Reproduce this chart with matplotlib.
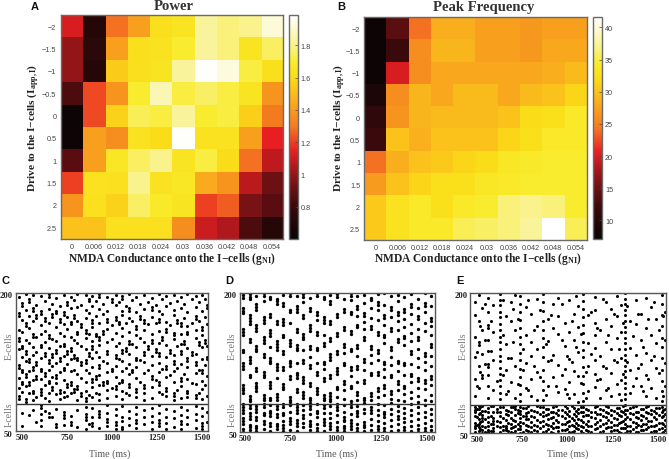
import matplotlib
matplotlib.use("Agg")
import matplotlib.pyplot as plt
from matplotlib.colors import LinearSegmentedColormap

W, H = 669, 460
plt.rcParams['mathtext.fontset'] = 'custom'
plt.rcParams['mathtext.rm'] = 'Liberation Serif:bold'
plt.rcParams['mathtext.default'] = 'rm'

g_labels = ['0', '0.006', '0.012', '0.018', '0.024', '0.03', '0.036', '0.042', '0.048', '0.054']
drive_labels = ['\u22122', '\u22121.5', '\u22121', '\u22120.5', '0', '0.5', '1', '1.5', '2', '2.5']

power = [
    [1.12, 0.72, 1.28, 1.42, 1.62, 1.65, 1.82, 1.78, 1.80, 1.92],
    [1.00, 0.75, 1.42, 1.62, 1.64, 1.70, 1.82, 1.78, 1.65, 1.75],
    [1.00, 0.72, 1.55, 1.62, 1.65, 1.82, 1.98, 1.93, 1.72, 1.62],
    [0.85, 1.22, 1.38, 1.70, 1.86, 1.72, 1.76, 1.72, 1.65, 1.38],
    [0.62, 1.22, 1.57, 1.74, 1.72, 1.82, 1.70, 1.72, 1.56, 1.30],
    [0.63, 1.42, 1.36, 1.64, 1.60, 1.98, 1.64, 1.64, 1.42, 1.15],
    [0.88, 1.42, 1.66, 1.75, 1.80, 1.65, 1.72, 1.60, 1.28, 1.08],
    [1.20, 1.64, 1.63, 1.80, 1.64, 1.66, 1.45, 1.38, 1.07, 0.92],
    [1.38, 1.63, 1.57, 1.76, 1.68, 1.65, 1.20, 1.25, 0.95, 0.88],
    [1.52, 1.52, 1.63, 1.63, 1.63, 1.36, 1.10, 1.05, 0.85, 0.72],
]
peak = [
    [7.5, 14.0, 24.0, 28.5, 28.5, 27.5, 27.5, 26.8, 27.5, 27.5],
    [7.5, 12.0, 26.0, 29.0, 29.0, 27.5, 27.5, 26.8, 28.0, 28.0],
    [7.5, 20.0, 26.0, 28.0, 28.0, 28.0, 28.0, 28.0, 28.5, 29.5],
    [9.0, 26.0, 29.0, 28.0, 29.5, 29.5, 28.0, 29.5, 30.0, 31.5],
    [11.0, 26.5, 29.0, 29.5, 29.5, 29.5, 30.0, 32.0, 32.5, 34.0],
    [12.0, 30.0, 28.7, 30.0, 30.0, 30.0, 31.5, 32.5, 34.0, 34.0],
    [24.0, 28.5, 30.0, 30.5, 31.5, 32.0, 33.5, 34.0, 34.5, 34.5],
    [27.0, 30.0, 31.5, 32.5, 32.5, 33.5, 34.0, 34.5, 34.5, 34.5],
    [30.5, 33.0, 34.0, 32.5, 34.0, 34.5, 36.5, 37.0, 36.5, 34.5],
    [30.5, 33.0, 34.0, 34.0, 35.5, 36.0, 36.5, 37.5, 41.7, 35.5],
]

C_times = [485, 504, 522, 541, 560, 580, 605, 628, 652, 670, 689, 712, 735, 752, 772, 790, 809, 832, 855, 874,
           893, 912, 930, 953, 976, 1000, 1022, 1040, 1059, 1078, 1096, 1115, 1133, 1157, 1180, 1203, 1226, 1245,
           1263, 1282, 1300, 1323, 1346, 1365, 1383, 1402, 1420, 1444, 1467, 1486, 1504, 1518, 1531]
C_cells = [
    [196, 178, 175, 160, 151, 148, 139, 122, 119, 108, 97, 88, 85],
    [189, 186, 171, 158, 143, 140, 131, 117, 114, 104, 101, 93, 70, 56],
    [199, 182, 167, 164, 149, 137, 134, 126, 112, 109, 99, 85, 82],
    [193, 190, 175, 162, 146, 128, 125, 115, 103, 100, 91, 68],
    [198, 184, 181, 170, 155, 152, 141, 133, 120, 117, 106, 94, 91, 84, 73],
    [187, 176, 173, 152, 136, 125, 122, 110, 107, 87, 60],
    [197, 180, 177, 165, 156, 144, 141, 130, 118, 115, 107, 96, 93, 89, 78, 75, 69, 62, 56],
    [191, 173, 170, 159, 147, 135, 132, 113, 110, 100, 86, 72],
    [199, 196, 183, 168, 154, 151, 140, 127, 124, 116, 105, 102, 92, 83, 70, 65],
    [188, 177, 174, 150, 134, 131, 121, 109, 98, 95, 66],
    [195, 181, 178, 163, 148, 138, 135, 124, 111, 108, 102, 90, 74, 58, 55],
    [186, 172, 169, 157, 142, 129, 126, 114, 95, 92, 85],
    [198, 179, 176, 166, 153, 145, 142, 132, 119, 116, 106, 93, 87, 71, 68, 64, 57],
    [190, 187, 174, 161, 137, 134, 123, 101, 98, 88],
    [196, 184, 169, 166, 152, 140, 137, 128, 115, 103, 100, 92, 67, 60, 57],
    [192, 176, 173, 149, 133, 130, 117, 96, 93],
    [199, 185, 170, 158, 155, 146, 130, 127, 112, 99, 96, 84, 73, 55],
    [187, 166, 163, 143, 125, 122, 108, 91, 88],
    [198, 182, 173, 160, 157, 151, 139, 127, 124, 116, 104, 94, 86, 83, 76, 69, 66, 62, 53],
    [194, 191, 178, 155, 135, 132, 113, 89, 58],
    [197, 186, 171, 168, 163, 148, 142, 139, 129, 120, 107, 104, 98, 87, 75, 66, 59, 56],
    [191, 175, 156, 153, 136, 110, 107, 92],
    [199, 196, 183, 168, 152, 149, 144, 131, 122, 119, 111, 100, 90, 84, 72, 69, 65, 54],
    [188, 177, 159, 156, 126, 103, 100],
    [196, 180, 172, 169, 161, 147, 137, 134, 124, 114, 105, 102, 95, 86, 78, 70, 63, 60, 56],
    [193, 190, 165, 150, 118, 115, 97],
    [198, 187, 174, 171, 157, 143, 133, 130, 121, 109, 99, 96, 88, 74, 68, 60, 57, 53],
    [190, 169, 166, 146, 128, 102],
    [197, 194, 181, 176, 162, 153, 138, 135, 126, 115, 106, 103, 94, 85, 77, 66, 61, 55, 52],
    [186, 167, 140, 137, 119, 91],
    [199, 184, 181, 173, 158, 148, 145, 134, 123, 112, 101, 98, 89, 72, 64, 57],
    [192, 170, 145, 117, 114],
    [196, 179, 164, 161, 154, 141, 130, 127, 120, 108, 96, 93, 87, 76, 69, 62, 59, 54],
    [188, 175, 172, 151, 127, 104],
    [198, 183, 171, 168, 160, 147, 136, 133, 125, 113, 100, 97, 92, 84, 73, 65, 58],
    [190, 166, 142, 139, 116],
    [195, 185, 182, 174, 156, 149, 146, 132, 122, 110, 107, 98, 86, 75, 67, 60, 53],
    [187, 168, 139, 136, 106],
    [199, 180, 172, 169, 159, 146, 135, 132, 124, 114, 103, 100, 93, 78, 70, 62, 59, 56],
    [193, 177, 152, 149, 118, 90],
    [197, 186, 169, 161, 158, 144, 131, 121, 118, 109, 97, 94, 88, 74, 66, 59, 52],
    [189, 165, 138, 135, 111],
    [198, 182, 176, 157, 154, 150, 133, 126, 123, 115, 104, 91, 88, 84, 72, 64, 55],
    [191, 171, 168, 143, 119, 95],
    [196, 184, 167, 164, 155, 145, 137, 134, 123, 108, 105, 99, 86, 76, 68, 61, 58, 53],
    [188, 173, 148, 145, 112],
    [199, 179, 164, 158, 155, 140, 129, 126, 120, 107, 94, 91, 87, 73, 65, 58],
    [193, 168, 136, 133, 102],
    [197, 185, 175, 172, 160, 151, 134, 125, 122, 113, 101, 89, 86, 77, 69, 62, 54],
    [190, 170, 147, 144, 117, 92],
    [198, 181, 163, 160, 154, 141, 128, 116, 113, 105, 96, 85, 75, 67, 59, 56, 52],
    [194, 174, 149, 146, 122, 100],
    [187, 184, 166, 143, 131, 128, 110, 88, 71, 60],
]

D_times = [490, 527, 562, 603, 638, 674, 712, 749, 787, 822, 860, 898, 934, 970, 1008,
           1046, 1082, 1118, 1156, 1194, 1230, 1266, 1304, 1342, 1378, 1414, 1452, 1490, 1526]
D_cells = [
    [198, 195, 184, 181, 178, 161, 158, 155, 139, 136, 124, 121, 118, 101, 98, 95, 92, 80, 77, 74, 71, 65, 62, 59, 53, 50],
    [199, 196, 193, 176, 173, 170, 167, 150, 147, 131, 128, 125, 112, 109, 89, 86, 83, 79, 76, 70, 67, 64, 58, 55, 52],
    [197, 188, 185, 182, 165, 162, 159, 143, 140, 137, 119, 116, 103, 100, 97, 94, 78, 75, 72, 66, 63, 57, 54, 51],
    [200, 197, 191, 174, 171, 168, 152, 149, 146, 134, 131, 115, 112, 109, 90, 87, 84, 80, 77, 71, 68, 62, 59, 53],
    [196, 193, 177, 174, 160, 157, 154, 142, 130, 127, 124, 104, 101, 98, 87, 84, 79, 73, 70, 67, 60, 57, 51],
    [194, 191, 188, 170, 167, 148, 145, 142, 139, 123, 120, 117, 108, 91, 88, 85, 78, 75, 69, 66, 59, 56, 53],
    [198, 189, 186, 172, 169, 166, 155, 152, 137, 134, 120, 117, 102, 99, 96, 80, 77, 71, 68, 62, 58, 54, 51],
    [200, 197, 182, 179, 168, 149, 146, 143, 127, 124, 121, 110, 107, 88, 85, 82, 79, 72, 65, 62, 59, 52],
    [197, 186, 183, 180, 161, 158, 144, 141, 138, 125, 114, 111, 108, 96, 93, 80, 77, 74, 70, 63, 60, 57, 51],
    [199, 196, 190, 176, 173, 156, 153, 150, 139, 128, 125, 109, 106, 103, 93, 90, 87, 79, 74, 68, 65, 60, 55],
    [195, 184, 181, 165, 162, 159, 143, 140, 131, 122, 119, 103, 100, 87, 84, 81, 78, 75, 69, 62, 59, 56, 52],
    [200, 197, 179, 176, 171, 158, 155, 141, 138, 124, 115, 112, 97, 94, 91, 80, 73, 70, 66, 59, 54, 51],
    [196, 193, 174, 171, 168, 155, 146, 143, 126, 123, 118, 108, 105, 90, 87, 84, 79, 76, 70, 64, 61, 58, 51],
    [198, 191, 188, 170, 167, 151, 148, 134, 131, 128, 111, 108, 92, 89, 86, 83, 78, 71, 65, 60, 57, 53],
    [199, 196, 177, 174, 157, 154, 137, 134, 119, 116, 113, 99, 96, 88, 80, 77, 74, 68, 61, 55, 52],
    [194, 183, 180, 163, 160, 145, 142, 135, 125, 122, 105, 102, 95, 86, 79, 72, 66, 63, 62, 57, 54, 51],
    [200, 197, 192, 180, 177, 159, 156, 140, 137, 120, 117, 110, 100, 97, 83, 80, 77, 69, 63, 60, 56, 53],
    [197, 186, 183, 175, 166, 163, 144, 141, 132, 121, 118, 104, 93, 90, 85, 78, 73, 70, 67, 59, 54, 51],
    [198, 189, 178, 175, 169, 161, 152, 149, 129, 126, 117, 106, 103, 87, 84, 81, 75, 70, 61, 58, 55, 51],
    [195, 192, 184, 173, 164, 161, 143, 140, 133, 124, 114, 111, 92, 89, 84, 77, 74, 71, 64, 58, 52],
    [199, 190, 187, 182, 171, 158, 155, 138, 135, 128, 115, 112, 97, 94, 88, 80, 74, 68, 62, 56, 53, 50],
    [200, 187, 176, 173, 165, 155, 152, 146, 126, 123, 118, 109, 101, 98, 90, 79, 72, 69, 66, 60, 54, 51],
    [197, 185, 182, 174, 162, 159, 142, 139, 131, 122, 112, 109, 94, 91, 86, 81, 75, 69, 63, 57, 51],
    [198, 191, 179, 176, 170, 160, 150, 147, 127, 124, 116, 105, 102, 95, 85, 78, 73, 67, 64, 59, 52],
    [196, 183, 180, 172, 163, 154, 151, 144, 125, 122, 111, 100, 97, 91, 83, 76, 71, 65, 61, 55, 52],
    [199, 188, 185, 177, 167, 157, 148, 137, 134, 123, 113, 110, 104, 93, 87, 80, 74, 68, 62, 56, 51],
    [194, 184, 175, 172, 161, 152, 149, 140, 130, 120, 108, 105, 98, 89, 82, 77, 70, 64, 58, 53, 50],
    [200, 189, 186, 180, 168, 159, 135, 132, 126, 117, 106, 103, 96, 84, 79, 72, 66, 60, 54, 51],
    [197, 186, 173, 170, 164, 155, 145, 142, 132, 121, 110, 107, 101, 90, 83, 75, 69, 63, 57, 52],
]

E_times = [490, 510, 530, 564, 590, 628, 660, 690, 712, 738, 770, 800, 830, 867, 895, 920, 950, 985, 1010,
           1035, 1060, 1087, 1115, 1150, 1180, 1210, 1240, 1270, 1295, 1316, 1345, 1375, 1405, 1430, 1460, 1490, 1518, 1535]
E_cells = [
    [190, 176, 153, 131, 108, 90, 78, 75, 72, 68, 61, 58, 55, 51],
    [198, 170, 147, 144, 122, 98, 79, 76, 70, 65, 60, 56, 52],
    [184, 160, 135, 112, 109, 79, 74, 69, 66, 63, 58, 53, 50],
    [195, 180, 166, 163, 150, 138, 124, 121, 112, 100, 88, 77, 72, 67, 62, 57, 53, 51],
    [187, 158, 128, 96, 79, 73, 66, 63, 60, 55, 52],
    [199, 193, 187, 180, 174, 167, 160, 153, 147, 140, 133, 127, 120, 113, 107, 100, 93, 86, 78, 73, 68, 62, 56, 51],
    [175, 145, 118, 92, 75, 70, 64, 58, 55, 53],
    [190, 170, 130, 105, 78, 72, 66, 60, 55, 51],
    [198, 160, 122, 88, 79, 76, 69, 63, 57, 52],
    [197, 188, 180, 171, 162, 153, 145, 136, 128, 119, 110, 101, 92, 84, 78, 74, 70, 66, 62, 58, 54, 50],
    [185, 155, 125, 98, 77, 71, 68, 65, 59, 53],
    [178, 148, 132, 108, 90, 75, 68, 62, 56, 51],
    [194, 165, 140, 115, 85, 79, 72, 64, 58, 52],
    [199, 190, 181, 170, 160, 152, 142, 131, 118, 106, 96, 85, 78, 73, 68, 63, 57, 51],
    [172, 149, 127, 100, 76, 70, 65, 59, 54],
    [188, 162, 134, 110, 78, 73, 67, 61, 55, 50],
    [195, 175, 156, 123, 94, 75, 69, 62, 56, 52],
    [168, 143, 119, 97, 79, 72, 66, 60, 53],
    [192, 158, 129, 105, 88, 74, 68, 63, 57, 51],
    [178, 150, 116, 92, 77, 70, 64, 58, 52],
    [186, 164, 137, 111, 83, 76, 71, 65, 59, 54],
    [199, 191, 183, 174, 166, 157, 148, 139, 131, 121, 111, 102, 93, 84, 78, 73, 68, 62, 56, 50],
    [176, 146, 122, 95, 75, 69, 63, 57, 52],
    [196, 182, 168, 155, 141, 128, 113, 99, 78, 72, 66, 60, 54],
    [160, 132, 108, 88, 76, 70, 64, 58, 51],
    [190, 172, 147, 120, 96, 79, 73, 67, 61, 55],
    [183, 165, 140, 114, 90, 75, 69, 62, 56, 52],
    [197, 175, 152, 126, 103, 77, 71, 65, 59, 53],
    [187, 158, 130, 107, 85, 74, 68, 62, 55, 50],
    [200, 194, 188, 182, 176, 170, 164, 158, 152, 146, 140, 134, 128, 122, 116, 110, 104, 98, 92, 86, 80, 75, 70, 65, 60, 55, 50],
    [170, 141, 118, 93, 77, 71, 65, 58, 52],
    [192, 167, 134, 109, 79, 73, 67, 61, 56, 51],
    [178, 150, 124, 100, 76, 69, 64, 58, 53],
    [195, 162, 136, 112, 90, 78, 72, 66, 60, 54],
    [185, 155, 128, 98, 75, 70, 63, 57, 51],
    [172, 146, 120, 88, 77, 71, 65, 59, 52],
    [198, 188, 176, 165, 152, 142, 130, 118, 106, 95, 84, 78, 73, 67, 61, 55, 50],
    [180, 150, 125, 100, 76, 70, 64, 58, 53],
]
# extra E-panel spikes lying between the main columns
E2_times = [500, 520, 547, 577, 609, 644, 675, 701, 725, 754, 785, 815, 848, 881, 907, 935, 967, 997, 1022,
            1047, 1073, 1101, 1132, 1165, 1195, 1225, 1255, 1282, 1306, 1330, 1360, 1390, 1417, 1445, 1475, 1504, 1527]
E2_cells = [
    [137, 100, 76, 67, 59], [165, 115, 78, 71, 62, 54], [188, 150, 124, 74, 65, 56, 51], [170, 138, 79, 68, 60, 52],
    [106, 76, 72, 63, 57], [192, 155, 112, 78, 66, 58, 53], [130, 95, 74, 69, 61, 52], [183, 148, 78, 64, 56, 50],
    [172, 103, 75, 71, 60, 54], [140, 118, 77, 68, 61, 51], [192, 96, 79, 72, 65, 57, 52], [160, 122, 74, 67, 59, 53],
    [182, 110, 78, 70, 62, 55], [145, 91, 76, 69, 60, 52], [176, 128, 73, 66, 58, 51], [100, 79, 71, 64, 56],
    [188, 150, 112, 75, 68, 60, 53], [133, 92, 77, 70, 62, 54], [170, 126, 79, 66, 59, 51], [197, 142, 74, 68, 61, 55],
    [156, 104, 78, 72, 64, 57, 52], [115, 88, 76, 69, 60, 53], [180, 135, 73, 67, 58, 51], [162, 107, 79, 70, 62, 55],
    [194, 122, 75, 68, 60, 52], [155, 98, 78, 71, 64, 56], [178, 128, 74, 66, 59, 53], [140, 92, 77, 69, 61, 51],
    [168, 113, 79, 72, 63, 55], [186, 126, 75, 67, 58, 52], [154, 100, 78, 70, 62, 54], [178, 120, 73, 66, 59, 51],
    [142, 95, 76, 68, 60, 53], [172, 108, 79, 71, 63, 56], [190, 132, 74, 67, 58, 52], [160, 114, 77, 69, 61, 54],
    [175, 90, 75, 68, 60, 51],
]

hot_stops = [(0.0, '#0a0405'), (0.15, '#3c0a0c'), (0.28, '#8e1518'), (0.395, '#ea2024'),
             (0.50, '#f47a20'), (0.60, '#f9a61e'), (0.72, '#fbdc18'), (0.79, '#f9ec2c'),
             (0.87, '#f9f392'), (1.0, '#ffffff')]
soft_hot = LinearSegmentedColormap.from_list('soft_hot', hot_stops)


def px_axes(x0, y0, x1, y1):
    return fig.add_axes([x0 / W, 1 - y1 / H, (x1 - x0) / W, (y1 - y0) / H])


def px_text(x, y, s, **kw):
    kw.setdefault('ha', 'center')
    kw.setdefault('va', 'center')
    fig.text(x / W, 1 - y / H, s, **kw)


fig = plt.figure(figsize=(W / 100, H / 100), dpi=100)
SPINE = '#6a6a6a'
SANS = 'Liberation Sans'
SERIF = 'Liberation Serif'
XLAB = 'NMDA Conductance onto the I\u2212cells (g$_{\\mathregular{NI}}$)'
YLAB = 'Drive to the I\u2212cells (I$_{\\mathregular{app,I}}$)'


def heat(box, cbox, data, vmin, vmax, cticks, title, tx, xlx, ylx, letter, lx):
    ax = px_axes(*box)
    im = ax.imshow(data, cmap=soft_hot, vmin=vmin, vmax=vmax, aspect='auto', interpolation='nearest')
    ax.set_xticks(range(10), g_labels)
    ax.set_yticks(range(10), drive_labels)
    ax.tick_params(length=0, labelsize=5.2, colors='#444444', pad=3, labelfontfamily=SANS)
    ax.tick_params(axis='x', pad=3)
    for s in ax.spines.values():
        s.set_color(SPINE)
        s.set_linewidth(1.0)
    cax = px_axes(*cbox)
    cb = fig.colorbar(im, cax=cax)
    cb.set_ticks(cticks, labels=[str(t) for t in cticks])
    cb.ax.tick_params(length=2, width=0.5, direction='in', labelsize=5.2, colors='#444444', pad=2,
                      labelfontfamily=SANS)
    cb.outline.set_edgecolor(SPINE)
    cb.outline.set_linewidth(1.0)
    px_text(tx, 7, title, family=SERIF, weight='bold', fontsize=10.6, color='#333333')
    px_text(xlx, 259, XLAB, family=SERIF, weight='bold', fontsize=8.3, color='#222222')
    px_text(ylx, 128, YLAB, family=SERIF, weight='bold', fontsize=8.2, rotation=90, color='#222222')
    px_text(lx, 7, letter, family=SANS, weight='bold', fontsize=8, color='#111111')


heat((60.5, 16, 282.7, 239.5), (289, 16, 298, 239.5), power, 0.605, 1.987,
     [0.8, 1, 1.2, 1.4, 1.6, 1.8], 'Power', 173.5, 172, 33, 'A', 34.5)
heat((364.3, 18, 586.7, 240.7), (593, 17.5, 602.3, 240), peak, 7.1, 41.7,
     [10, 15, 20, 25, 30, 35, 40], 'Peak Frequency', 484, 478, 339, 'B', 341.5)


def raster(box, xlim, groups, letter, lx, ylab_x, lab200_x, time_x, ms):
    ax = px_axes(*box)
    for times, cells in groups:
        for t, cs in zip(times, cells):
            ax.plot([t] * len(cs), cs, ls='none', marker='o', ms=ms, mfc='k', mec='none', clip_on=True)
    ax.axhline(80, color='#333333', lw=1.0)
    ax.set_xlim(*xlim)
    ax.set_ylim(50, 200)
    ax.set_xticks([500, 750, 1000, 1250, 1500])
    ax.set_yticks([])
    ax.tick_params(length=0, labelsize=6.2, colors='#222222', pad=1.5, labelfontfamily=SERIF)
    for lab in ax.get_xticklabels():
        lab.set_fontweight('bold')
    for s in ax.spines.values():
        s.set_color('#555555')
        s.set_linewidth(1.0)
    x0, y0, x1, y1 = box
    px_text(lab200_x, y0 + 2, '200', family=SERIF, weight='bold', fontsize=6.2, ha='right', color='#222222')
    px_text(lab200_x, y1 + 3, '50', family=SERIF, weight='bold', fontsize=6.2, ha='right', color='#222222')
    px_text(ylab_x, 346, 'E-cells', family=SERIF, fontsize=7, rotation=90, color='#777777')
    px_text(ylab_x, 415, 'I-cells', family=SERIF, fontsize=7, rotation=90, color='#777777')
    px_text(time_x, 454, 'Time (ms)', family=SERIF, fontsize=7.2, color='#555555')
    px_text(lx, 281, letter, family=SANS, weight='bold', fontsize=8, color='#111111')


raster((16, 294, 208, 432.3), (468, 1535), [(C_times, C_cells)], 'C', 5, 9.5, 12.5, 110, 2.2)
raster((239.7, 294, 435, 433), (471, 1546), [(D_times, D_cells)], 'D', 229.5, 232, 237, 337, 2.4)
raster((470, 294, 666.3, 434), (463, 1544), [(E_times, E_cells), (E2_times, E2_cells)], 'E', 460, 463, 468, 568, 2.2)

fig.savefig('out.png', dpi=100)
